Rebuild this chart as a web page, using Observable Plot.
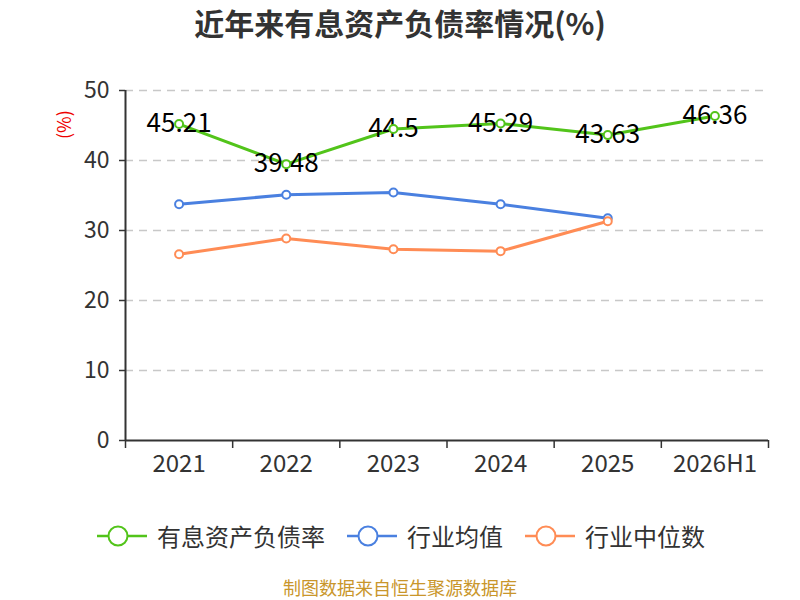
<!DOCTYPE html>
<html><head><meta charset="utf-8">
<script src="https://cdn.jsdelivr.net/npm/d3@7"></script>
<script src="https://cdn.jsdelivr.net/npm/@observablehq/plot@0.6"></script>
<style>
body{margin:0;background:#fff;font-family:"Microsoft YaHei","Noto Sans CJK SC",sans-serif;}
#wrap{position:relative;width:800px;height:600px;overflow:hidden;}
.abs{position:absolute;white-space:nowrap;}
</style></head><body>
<div id="wrap"></div>
<script>
const categories = ["2021","2022","2023","2024","2025","2026H1"];
const debtRatio = [45.21, 39.48, 44.5, 45.29, 43.63, 46.36];
const industryMean = [33.76, 35.1, 35.43, 33.76, 31.76];
const industryMedian = [26.6, 28.86, 27.33, 27.05, 31.33];
const yTicks = [0, 10, 20, 30, 40, 50];
const seriesNames = ["有息资产负债率", "行业均值", "行业中位数"];
const colors = ["#52c41a", "#4a80e0", "#ff8c55"];

const toRows = (arr) => arr.map((v, i) => ({i, v}));
const green = toRows(debtRatio), blue = toRows(industryMean), orange = toRows(industryMedian);
const idx = categories.map((_, i) => i);
const bounds = [...idx.map(i => i - 0.5), categories.length - 0.5];
const font = '"Microsoft YaHei","Noto Sans CJK SC",sans-serif';

const chart = Plot.plot({
  width: 800, height: 600,
  marginTop: 90, marginBottom: 160, marginLeft: 125, marginRight: 32,
  style: {fontFamily: font, background: "#fff", overflow: "visible"},
  x: {type: "linear", domain: [-0.5, categories.length - 0.5], axis: null},
  y: {domain: [0, 50], axis: null},
  marks: [
    Plot.gridY(yTicks.filter(d => d > 0), {stroke: "#c8c8c8", strokeOpacity: 1, strokeDasharray: "8,6", strokeWidth: 1.3}),
    Plot.axisY(yTicks, {label: null, tickSize: 6, tickPadding: 10, fontSize: 23, color: "#333", tickFormat: d => d, stroke: "#333", strokeWidth: 1.5}),
    Plot.axisX(bounds, {label: null, tickSize: 8, tickFormat: () => "", stroke: "#333", strokeWidth: 1.5}),
    Plot.axisX(idx, {label: null, tickSize: 0, tickPadding: 14, fontSize: 24, color: "#333", tickFormat: i => categories[i]}),
    Plot.ruleX([-0.5], {stroke: "#333", strokeWidth: 2}),
    Plot.ruleY([0], {stroke: "#333", strokeWidth: 2}),
    Plot.line(blue, {x: "i", y: "v", stroke: colors[1], strokeWidth: 3}),
    Plot.line(orange, {x: "i", y: "v", stroke: colors[2], strokeWidth: 3}),
    Plot.line(green, {x: "i", y: "v", stroke: colors[0], strokeWidth: 3}),
    Plot.dot(blue, {x: "i", y: "v", r: 4, fill: "#fff", stroke: colors[1], strokeWidth: 2}),
    Plot.dot(orange, {x: "i", y: "v", r: 4, fill: "#fff", stroke: colors[2], strokeWidth: 2}),
    Plot.text(green, {x: "i", y: "v", text: d => String(d.v), fontSize: 26, fill: "#000"}),
    Plot.dot(green, {x: "i", y: "v", r: 4, fill: "#fff", stroke: colors[0], strokeWidth: 2})
  ]
});
const wrap = document.getElementById("wrap");
wrap.appendChild(chart);

function addDiv(html, css) {
  const d = document.createElement("div");
  d.className = "abs";
  d.innerHTML = html;
  d.style.cssText += css;
  wrap.appendChild(d);
  return d;
}
addDiv("近年来有息资产负债率情况(%)", "left:0;width:800px;text-align:center;top:2px;font-size:30px;line-height:40px;font-weight:bold;color:#333;");
addDiv("(%)", "left:49px;top:112px;font-size:18px;line-height:26px;color:#e00;transform:rotate(-90deg);transform-origin:center;width:28px;text-align:center;");
addDiv("制图数据来自恒生聚源数据库", "left:0;width:800px;text-align:center;top:576px;font-size:18px;line-height:22px;color:#c9962b;");

const legendX = [97, 347, 525];
seriesNames.forEach((name, k) => {
  addDiv(`<svg width="50" height="24" style="vertical-align:middle"><line x1="0" y1="12" x2="50" y2="12" stroke="${colors[k]}" stroke-width="2.5"/><circle cx="21" cy="12" r="9.5" fill="#fff" stroke="${colors[k]}" stroke-width="2"/></svg><span style="margin-left:10px;vertical-align:middle">${name}</span>`,
    `left:${legendX[k]}px;top:516px;font-size:24px;color:#333;line-height:34px;`);
});
</script>
</body></html>
